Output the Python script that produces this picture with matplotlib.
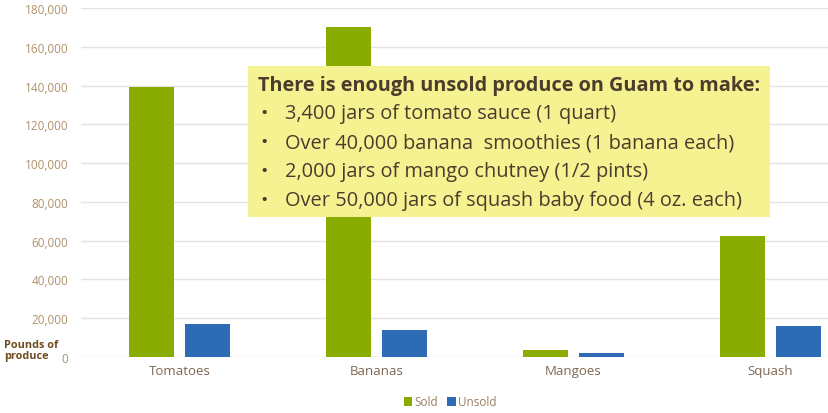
import numpy as np
import matplotlib
matplotlib.use("Agg")
from matplotlib import pyplot as plt

categories = ["Tomatoes", "Bananas", "Mangoes", "Squash"]
sold = [139000, 170000, 3600, 62500]
unsold = [17000, 14000, 2000, 16000]
yticks = list(range(0, 180001, 20000))
note_title = "There is enough unsold produce on Guam to make:"
note_items = [
    "3,400 jars of tomato sauce (1 quart)",
    "Over 40,000 banana  smoothies (1 banana each)",
    "2,000 jars of mango chutney (1/2 pints)",
    "Over 50,000 jars of squash baby food (4 oz. each)",
]

green = "#8aab00"
blue = "#2d6cb5"
tick_col = "#b0916c"
text_col = "#4b3c2c"

plt.rcParams["font.family"] = ["Open Sans", "DejaVu Sans"]

fig = plt.figure(figsize=(8.29, 4.14), dpi=100)
# plot area is cut off on the right in the original
ax = fig.add_axes([81 / 829, 56 / 414, 748 / 829, 349 / 414])

x = np.arange(len(categories))
w = 0.228
gap = 0.056
ax.bar(x - (w + gap) / 2, sold, w, color=green, label="Sold", zorder=3)
ax.bar(x + (w + gap) / 2, unsold, w, color=blue, label="Unsold", zorder=3)

ax.set_xlim(-0.5, -0.5 + 748 / 197)
ax.set_ylim(0, 180000)
ax.set_yticks(yticks)
ax.set_yticklabels([f"{v:,}" for v in yticks], color=tick_col, fontsize=8.5)
ax.set_xticks(x)
ax.set_xticklabels(categories, color="#7f6650", fontsize=9.5)
ax.tick_params(length=0, pad=5)
ax.tick_params(axis="y", pad=9)
ax.yaxis.grid(True, color="#e8e2dc", lw=1, zorder=0)
for s in ax.spines.values():
    s.set_visible(False)

fig.text(4 / 829, 1 - 351 / 414, "Pounds of\nproduce", fontsize=7.8, fontweight="bold",
         color="#6e4a1e", va="center", ha="left", linespacing=1.1)

# note box
fig.patches.append(plt.Rectangle((248 / 829, 1 - 218 / 414), 522 / 829, 151 / 414,
                                 transform=fig.transFigure, facecolor="#f5f291",
                                 edgecolor="none", zorder=5))
fig.text(258 / 829, 1 - 86 / 414, note_title, fontsize=14.3, fontweight="bold",
         color=text_col, va="center", ha="left", zorder=6)
for i, item in enumerate(note_items):
    yy = 1 - (114 + i * 29) / 414
    fig.text(260 / 829, yy, "\u2022", fontsize=14, color=text_col, va="center", zorder=6)
    fig.text(285 / 829, yy, item, fontsize=14.4, color=text_col, va="center", zorder=6)

fig.legend(loc="center", bbox_to_anchor=(450 / 829, 1 - 403 / 414), ncol=2, frameon=False,
           fontsize=8.5, handlelength=0.7, handleheight=0.7, handletextpad=0.2,
           columnspacing=0.8, labelcolor="#9a7e62")

fig.savefig("out.png", dpi=100)
